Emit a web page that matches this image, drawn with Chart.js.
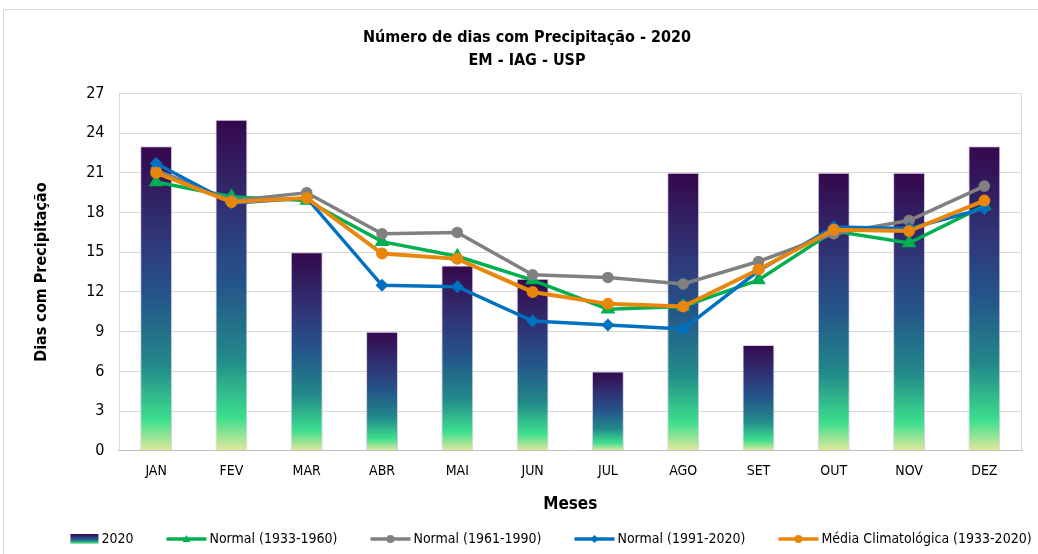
<!DOCTYPE html>
<html>
<head>
<meta charset="utf-8">
<script src="https://cdn.jsdelivr.net/npm/chart.js@4.4.1/dist/chart.umd.min.js"></script>
<style>
  body { margin: 0; background: #fff; }
  #frame { position: absolute; left: 3px; top: 9px; width: 1100px; height: 600px; border: 1px solid #d9d9d9; }
  #wrap { position: absolute; left: 0; top: 0; width: 1038px; height: 554px; }
</style>
</head>
<body>
<div id="frame"></div>
<div id="wrap"><canvas id="chart"></canvas></div>
<script>
const FONT = '"DejaVu Sans Condensed", "Liberation Sans", sans-serif';

const months = ["JAN", "FEV", "MAR", "ABR", "MAI", "JUN", "JUL", "AGO", "SET", "OUT", "NOV", "DEZ"];
const days2020 = [23, 25, 15, 9, 14, 13, 6, 21, 8, 21, 21, 23];
const normal1933 = [20.3, 19.2, 18.9, 15.8, 14.7, 12.9, 10.7, 10.9, 12.9, 16.6, 15.7, 18.5];
const normal1961 = [21.2, 18.9, 19.5, 16.4, 16.5, 13.3, 13.1, 12.6, 14.3, 16.4, 17.4, 20.0];
const normal1991 = [21.7, 18.7, 19.1, 12.5, 12.4, 9.8, 9.5, 9.2, 13.6, 16.9, 16.8, 18.3];
const media1933 = [21.0, 18.8, 19.1, 14.9, 14.5, 12.0, 11.1, 10.9, 13.7, 16.7, 16.6, 18.9];
const yTicks = [0, 3, 6, 9, 12, 15, 18, 21, 24, 27];

const VIRIDIS = [
  [0.00, "#35074c"],
  [0.30, "#2f3677"],
  [0.50, "#245689"],
  [0.72, "#22898a"],
  [0.90, "#3ddf8d"],
  [1.00, "#e3e89c"],
];

function addStops(g) {
  VIRIDIS.forEach(([p, c]) => g.addColorStop(p, c));
  return g;
}

function barGradient(context) {
  const chart = context.chart;
  if (!chart.chartArea || context.type !== "data") return VIRIDIS[2][1];
  const y = chart.scales.y;
  const top = y.getPixelForValue(context.raw);
  const bottom = y.getPixelForValue(0);
  if (bottom - top < 1) return VIRIDIS[0][1];
  return addStops(chart.ctx.createLinearGradient(0, top, 0, bottom));
}

function drawMarker(ctx, marker, x, y) {
  ctx.beginPath();
  if (marker === "triangle") {
    ctx.moveTo(x, y - 4); ctx.lineTo(x + 4, y + 3); ctx.lineTo(x - 4, y + 3); ctx.closePath();
  } else if (marker === "rectRot") {
    ctx.moveTo(x, y - 4); ctx.lineTo(x + 4, y); ctx.lineTo(x, y + 4); ctx.lineTo(x - 4, y); ctx.closePath();
  } else {
    ctx.arc(x, y, 4, 0, Math.PI * 2);
  }
  ctx.fill();
}

// legend drawn by hand so the spacing can follow the reference
const bottomLegend = {
  id: "bottomLegend",
  afterDraw(chart) {
    const ctx = chart.ctx;
    const y = 539;
    const gap = 33;
    ctx.save();
    ctx.font = "14px " + FONT;
    ctx.textBaseline = "middle";
    const items = chart.data.datasets.map((ds) => ({
      ds,
      sym: ds.type === "bar" ? 28 : 40,
      w: ctx.measureText(ds.label).width,
    }));
    const total = items.reduce((s, it) => s + it.sym + 3 + it.w, 0) + gap * (items.length - 1);
    let x = 551 - total / 2;
    items.forEach((it) => {
      const ds = it.ds;
      if (ds.type === "bar") {
        ctx.fillStyle = addStops(ctx.createLinearGradient(0, y - 5, 0, y + 5));
        ctx.fillRect(x, y - 5, 28, 10);
      } else {
        ctx.strokeStyle = ds.borderColor;
        ctx.fillStyle = ds.borderColor;
        ctx.lineWidth = 3.5;
        ctx.beginPath(); ctx.moveTo(x, y); ctx.lineTo(x + 40, y); ctx.stroke();
        drawMarker(ctx, ds.pointStyle, x + 20, y);
      }
      x += it.sym + 3;
      ctx.fillStyle = "#000";
      ctx.fillText(ds.label, x, y);
      x += it.w + gap;
    });
    ctx.restore();
  },
};

const plotFrame = {
  id: "plotFrame",
  beforeDatasetsDraw(chart) {
    const { ctx, chartArea: a } = chart;
    ctx.save();
    ctx.strokeStyle = "#d9d9d9";
    ctx.lineWidth = 1;
    ctx.beginPath();
    ctx.moveTo(Math.round(a.left) + 0.5, a.top);
    ctx.lineTo(Math.round(a.left) + 0.5, a.bottom);
    ctx.moveTo(Math.round(a.right) - 0.5, a.top);
    ctx.lineTo(Math.round(a.right) - 0.5, a.bottom);
    ctx.stroke();
    ctx.restore();
  },
};

function lineSet(label, data, color, marker, order, width) {
  return {
    type: "line",
    label,
    data,
    borderColor: color,
    backgroundColor: color,
    borderWidth: width,
    pointStyle: marker,
    pointRadius: marker === "triangle" ? 5 : 4,
    pointBorderColor: color,
    pointBackgroundColor: color,
    order,
  };
}

new Chart(document.getElementById("chart"), {
  data: {
    labels: months,
    datasets: [
      {
        type: "bar",
        label: "2020",
        data: days2020,
        backgroundColor: barGradient,
        borderColor: "rgba(190,170,210,0.6)",
        borderWidth: 1,
        barPercentage: 0.8,
        categoryPercentage: 0.53,
        order: 10,
      },
      lineSet("Normal (1933-1960)", normal1933, "#00b050", "triangle", 4, 3.5),
      lineSet("Normal (1961-1990)", normal1961, "#808080", "circle", 3, 3.5),
      lineSet("Normal (1991-2020)", normal1991, "#0070c0", "rectRot", 2, 3.5),
      lineSet("Média Climatológica (1933-2020)", media1933, "#e8870b", "circle", 1, 4),
    ],
  },
  options: {
    responsive: true,
    maintainAspectRatio: false,
    animation: false,
    layout: { padding: { left: 32, right: 16, top: 20, bottom: 39 } },
    plugins: {
      title: {
        display: true,
        text: ["Número de dias com Precipitação - 2020", "EM - IAG - USP"],
        color: "#000",
        font: { family: FONT, size: 16, weight: "bold", lineHeight: 1.45 },
        padding: { top: 6, bottom: 21 },
      },
      legend: { display: false },
      tooltip: { enabled: false },
    },
    scales: {
      x: {
        grid: { display: false, drawTicks: false },
        border: { color: "#bfbfbf", width: 1 },
        ticks: { color: "#000", font: { family: FONT, size: 14 }, padding: 12 },
        title: {
          display: true,
          text: "Meses",
          color: "#000",
          font: { family: FONT, size: 17, weight: "bold" },
          padding: { top: 3, bottom: 0 },
        },
      },
      y: {
        min: 0,
        max: 27,
        afterBuildTicks: (axis) => { axis.ticks = yTicks.map((v) => ({ value: v })); },
        grid: { color: "#d9d9d9", lineWidth: 1, drawTicks: false },
        border: { display: false },
        ticks: { color: "#000", font: { family: FONT, size: 16 }, padding: 14 },
        title: {
          display: true,
          text: "Dias com Precipitação",
          color: "#000",
          font: { family: FONT, size: 16, weight: "bold" },
          padding: { top: 0, bottom: 21 },
        },
      },
    },
  },
  plugins: [plotFrame, bottomLegend],
});
</script>
</body>
</html>
